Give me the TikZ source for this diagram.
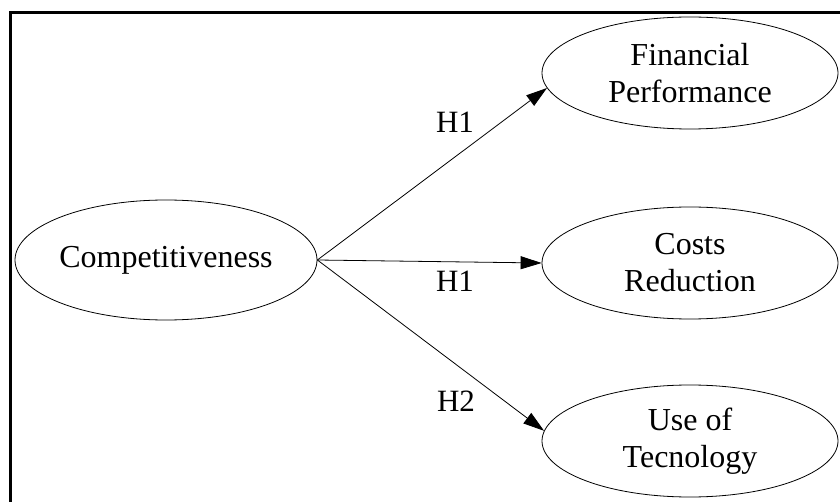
\documentclass[tikz,border=0pt]{standalone}
\usepackage{fontspec}
\setmainfont{Liberation Serif}
\usetikzlibrary{shapes.geometric,arrows.meta}
\tikzset{%
  construct/.style={ellipse, draw, line width=0.8pt, inner sep=0pt, align=center, font=\fontsize{32}{37}\selectfont},
  outcome/.style={construct, minimum width=296pt, minimum height=112pt},
  hyp/.style={inner sep=0pt, font=\fontsize{31}{34}\selectfont},
  link/.style={-{Triangle[length=21pt,width=13pt]}, line width=0.8pt}
}
\begin{document}
\begin{tikzpicture}[x=1pt,y=-1pt]
    % \draw (0,0) grid (840,502);
    \useasboundingbox (0,0) rectangle (840,502);
    \clip (0,0) rectangle (840,502);
    \draw[line width=3pt] (10,12.5) rectangle (850,515);

      \node[construct, minimum width=302pt, minimum height=120pt] (comp) at (166,260) {Competitiveness};
      \node[outcome] (fin) at (690,73) {Financial\\Performance};
      \node[outcome] (cost) at (690,263) {Costs\\Reduction};
      \node[outcome] (tech) at (690,441) {Use of\\Tecnology};

      \draw[link] (comp.east) -- (fin.186.6);
      \draw[link] (comp.east) -- (cost.west);
      \draw[link] (comp.east) -- (tech.176.9);

      \node[hyp] (h1a) at (455,122) {H1};
      \node[hyp] (h1b) at (455,281) {H1};
      \node[hyp] (h2) at (456,401) {H2};

  \end{tikzpicture}
\end{document}
